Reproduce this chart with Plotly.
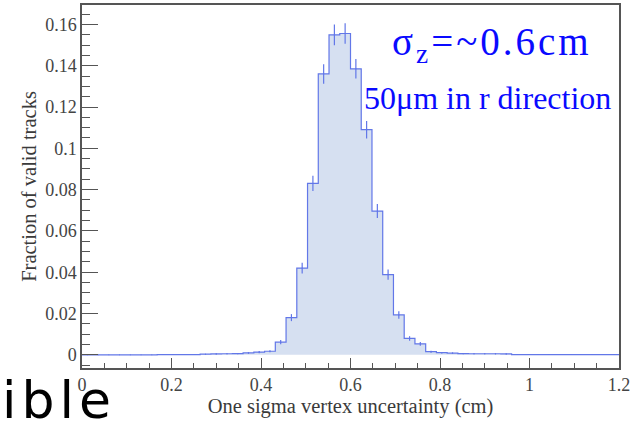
import plotly.graph_objects as go

# ---- data ----
bin_width = 0.024
bin_lo = [round(i * bin_width, 3) for i in range(50)]
fraction = [
    0.0, 0.0, 0.0, 0.0, 0.0, 0.0, 0.0, 0.0001, 0.0001, 0.0001,   # 0.000-0.240
    0.0001, 0.0003, 0.0004, 0.0005, 0.0006, 0.0009, 0.0013, 0.0017, 0.0061, 0.018,  # 0.240-0.480
    0.042, 0.083, 0.136, 0.1549, 0.1556, 0.1385, 0.109, 0.0696, 0.0388, 0.0193,   # 0.480-0.720
    0.0079, 0.0053, 0.0015, 0.0010, 0.0008, 0.0006, 0.0005, 0.0005, 0.0005, 0.0004,  # 0.720-0.960
    0.0001, 0.0001, 0.0001, 0.0001, 0.0001, 0.0001, 0.0001, 0.0001, 0.0001, 0.0001,  # 0.960-1.200
]
errors = [
    0.0, 0.0, 0.0, 0.0, 0.0, 0.0, 0.0, 0.0001, 0.0001, 0.0001,
    0.0001, 0.0002, 0.0003, 0.0003, 0.0003, 0.0004, 0.0005, 0.0005, 0.001, 0.0017,
    0.0026, 0.0037, 0.0047, 0.005, 0.005, 0.0047, 0.0042, 0.0034, 0.0025, 0.0018,
    0.0011, 0.0009, 0.0005, 0.0004, 0.0004, 0.0003, 0.0003, 0.0003, 0.0003, 0.0003,
    0.0001, 0.0001, 0.0001, 0.0001, 0.0001, 0.0001, 0.0001, 0.0001, 0.0001, 0.0001,
]
x_ticks = [0, 0.2, 0.4, 0.6, 0.8, 1.0, 1.2]
x_tick_text = ["0", "0.2", "0.4", "0.6", "0.8", "1", "1.2"]
y_ticks = [0, 0.02, 0.04, 0.06, 0.08, 0.10, 0.12, 0.14, 0.16]
y_tick_text = ["0", "0.02", "0.04", "0.06", "0.08", "0.1", "0.12", "0.14", "0.16"]

LINE = "#6277e8"
FILL = "#d6e0f1"
AX = "#555555"
TXT = "#3a3a3a"
SERIF = "Liberation Serif, Times New Roman, serif"

step_x = bin_lo + [bin_lo[-1] + bin_width]
step_y = fraction + [fraction[-1]]
centers = [b + bin_width / 2 for b in bin_lo]

fig = go.Figure()
fig.add_trace(go.Scatter(
    x=step_x, y=step_y, mode="lines", line=dict(shape="hv", color=LINE, width=1.2),
    fill="tozeroy", fillcolor=FILL, hoverinfo="skip", showlegend=False))
fig.add_trace(go.Scatter(
    x=centers, y=fraction, mode="markers", marker=dict(size=1, color=LINE),
    error_y=dict(type="data", array=errors, color=LINE, thickness=1.2, width=0),
    showlegend=False))

fig.update_layout(
    width=639, height=422,
    margin=dict(l=82, r=20, t=5, b=54, autoexpand=False),
    paper_bgcolor="white", plot_bgcolor="white",
    font=dict(family=SERIF, color=TXT),
    xaxis=dict(
        range=[0, 1.2], tickvals=x_ticks, ticktext=x_tick_text, automargin=False,
        ticks="inside", ticklen=10, tickcolor=AX, tickwidth=1.3,
        minor=dict(dtick=0.05, ticks="inside", ticklen=5, tickcolor=AX, tickwidth=1.3),
        showline=True, linecolor=AX, linewidth=1.5, mirror=True,
        showgrid=False, zeroline=False,
        tickfont=dict(family=SERIF, size=18, color="#444444"),
        title=dict(text="One sigma vertex uncertainty (cm)",
                   font=dict(family=SERIF, size=20.5, color=TXT), standoff=0),
    ),
    yaxis=dict(
        range=[-0.0064, 0.1694], tickvals=y_ticks, ticktext=y_tick_text, automargin=False,
        ticks="inside", ticklen=16, tickcolor=AX, tickwidth=1.3,
        minor=dict(dtick=0.005, tick0=0, ticks="inside", ticklen=8, tickcolor=AX, tickwidth=1.3),
        showline=True, linecolor=AX, linewidth=1.5, mirror=True,
        showgrid=False, zeroline=False,
        tickfont=dict(family=SERIF, size=18, color="#444444"),
        title=dict(text="Fraction of valid tracks",
                   font=dict(family=SERIF, size=20.5, color=TXT), standoff=3),
    ),
)

fig.add_annotation(
    xref="paper", yref="paper", x=0.763, y=0.89, xanchor="center", yanchor="middle",
    text='<span style="letter-spacing:3px">σ<sub>z</sub>=~0.6cm</span>', showarrow=False,
    font=dict(family=SERIF, size=39, color="#0a0aff"))
fig.add_annotation(
    xref="paper", yref="paper", x=0.989, y=0.745, xanchor="right", yanchor="middle",
    text="50μm in r direction", showarrow=False,
    font=dict(family=SERIF, size=32, color="#0a0aff"))
fig.add_annotation(
    xref="paper", yref="paper", x=0.0, y=0.0, xanchor="left", yanchor="top",
    xshift=-82,
    text='<span style="letter-spacing:5px">ible</span>', showarrow=False,
    font=dict(family="DejaVu Sans", size=52, color="black"))

fig.write_html("out.html", post_script="document.body.style.margin='0';",
               config={"displayModeBar": False})
